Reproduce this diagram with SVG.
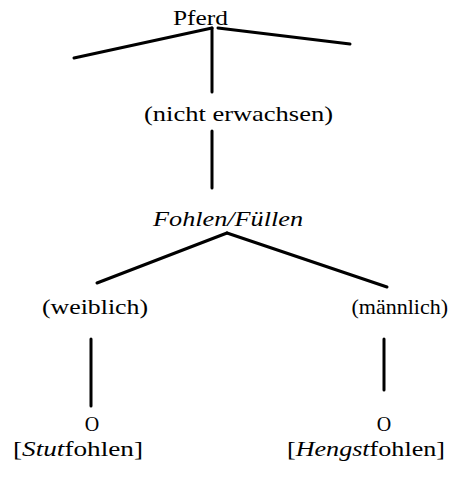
<svg xmlns="http://www.w3.org/2000/svg" width="456" height="482" viewBox="0 0 456 482">
<style>
  text { font-family: "Liberation Serif", "DejaVu Serif", serif; font-size: 22px; fill: #000; }
  .it { font-style: italic; }
  .o { font-size: 20px; }
  .edge { stroke: #000; stroke-width: 3; stroke-linecap: round; fill: none; }
</style>
<rect width="456" height="482" fill="#fff"/>
<g id="connectors">
  <line class="edge" x1="74" y1="58" x2="212" y2="28"/>
  <line class="edge" x1="218" y1="28" x2="350" y2="44"/>
  <line class="edge" x1="212" y1="28" x2="212" y2="92"/>
  <line class="edge" x1="212" y1="131" x2="212" y2="188"/>
  <line class="edge" x1="227" y1="233" x2="97" y2="283"/>
  <line class="edge" x1="227" y1="233" x2="387" y2="287"/>
  <line class="edge" x1="91" y1="339" x2="91" y2="406"/>
  <line class="edge" x1="384" y1="339" x2="384" y2="390"/>
</g>
<g id="pferd"><text x="173" y="25" textLength="55" lengthAdjust="spacingAndGlyphs">Pferd</text></g>
<g id="nicht-erwachsen"><text x="144" y="121" textLength="189" lengthAdjust="spacingAndGlyphs">(nicht erwachsen)</text></g>
<g id="fohlen"><text class="it" x="153" y="226" textLength="150" lengthAdjust="spacingAndGlyphs">Fohlen/Füllen</text></g>
<g id="weiblich"><text x="42" y="314" textLength="106" lengthAdjust="spacingAndGlyphs">(weiblich)</text></g>
<g id="maennlich"><text x="448" y="314" text-anchor="end">(männlich)</text></g>
<g id="o-left"><text class="o" x="92" y="431" text-anchor="middle">O</text></g>
<g id="o-right"><text class="o" x="384" y="431" text-anchor="middle">O</text></g>
<g id="stutfohlen"><text x="13" y="456" textLength="130" lengthAdjust="spacingAndGlyphs">[<tspan class="it">Stut</tspan>fohlen]</text></g>
<g id="hengstfohlen"><text x="287" y="456" textLength="158" lengthAdjust="spacingAndGlyphs">[<tspan class="it">Hengst</tspan>fohlen]</text></g>
</svg>
